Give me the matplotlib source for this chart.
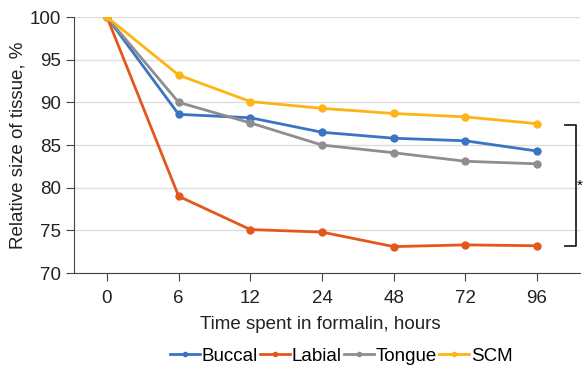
import matplotlib
matplotlib.use("Agg")
import matplotlib.pyplot as plt

plt.rcParams['font.family'] = ['Liberation Sans', 'DejaVu Sans']

hours = ["0", "6", "12", "24", "48", "72", "96"]
buccal = [100, 88.6, 88.2, 86.5, 85.8, 85.5, 84.3]
labial = [100, 79.0, 75.1, 74.8, 73.1, 73.3, 73.2]
tongue = [100, 90.0, 87.6, 85.0, 84.1, 83.1, 82.8]
scm = [100, 93.2, 90.1, 89.3, 88.7, 88.3, 87.5]

series = [("Buccal", buccal, "#3a74c2"),
          ("Labial", labial, "#e4571c"),
          ("Tongue", tongue, "#8e8e8e"),
          ("SCM", scm, "#fdb515")]

fig = plt.figure(figsize=(5.85, 3.71), dpi=100)
ax = fig.add_axes([0.1265, 0.264, 0.865, 0.690])

x = list(range(len(hours)))
for name, vals, col in series:
    ax.plot(x, vals, color=col, lw=2, marker="o", ms=5, label=name, zorder=3)

ax.set_xlim(-0.46, 6.6)
ax.set_ylim(70, 100)
ax.set_yticks(range(70, 101, 5))
ax.set_xticks(x)
ax.set_xticklabels(hours)
ax.yaxis.grid(True, color="#dddddd", lw=1)
ax.set_axisbelow(True)
for s in ["top", "right"]:
    ax.spines[s].set_visible(False)
for s in ["left", "bottom"]:
    ax.spines[s].set_color("#444444")
ax.tick_params(colors="#444444", labelcolor="#222222", labelsize=13.5, length=6)
ax.tick_params(axis="x", pad=6)
ax.set_xlabel("Time spent in formalin, hours", fontsize=13.5, color="#222222",
              labelpad=7, x=0.486)
ax.set_ylabel("Relative size of tissue, %", fontsize=13.5, color="#222222", labelpad=2)

# significance bracket
bx0, bx1 = 6.39, 6.54
ax.plot([bx0, bx1, bx1, bx0], [87.3, 87.3, 73.2, 73.2], color="#222222", lw=1.3,
        clip_on=False)
ax.text(6.56, 80.2, "*", fontsize=11, ha="left", va="center", clip_on=False)

ax.legend(loc="upper center", bbox_to_anchor=(0.528, -0.225), ncol=4, frameon=False,
          fontsize=13.5, handlelength=1.6, handletextpad=0.1, columnspacing=0.1,
          markerscale=0.6)

fig.savefig("out.png", dpi=100)
